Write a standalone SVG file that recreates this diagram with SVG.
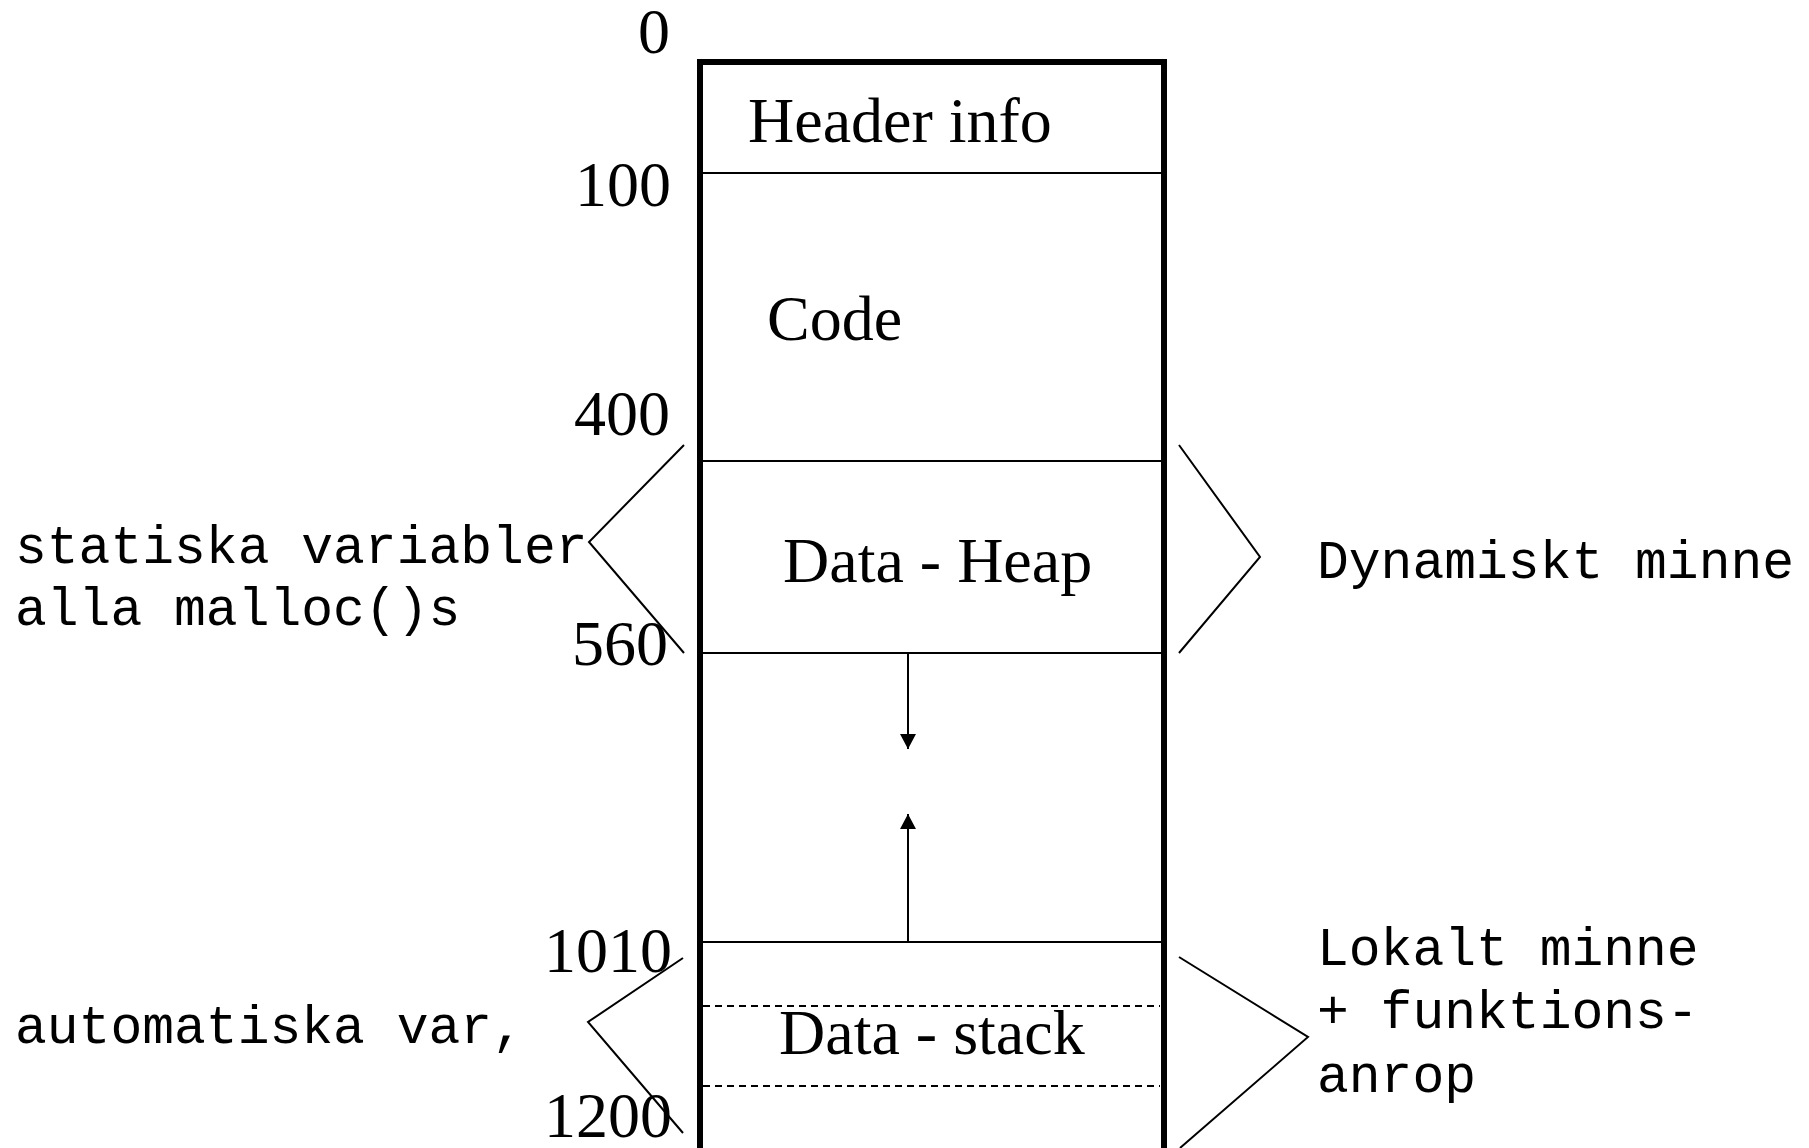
<svg xmlns="http://www.w3.org/2000/svg" width="1809" height="1148" viewBox="0 0 1809 1148">
  <style>
    .serif { font-family: "Liberation Serif", "Times New Roman", serif; font-size: 64px; fill: #000; }
    .num { font-family: "Liberation Serif", "Times New Roman", serif; font-size: 64px; fill: #000; text-anchor: end; }
    .mono { font-family: "Liberation Mono", "Courier New", monospace; font-size: 53px; fill: #000; }
    .thin { stroke: #000; stroke-width: 2; fill: none; }
    .dash { stroke: #000; stroke-width: 2; fill: none; stroke-dasharray: 7 5; }
    .thick { stroke: #000; stroke-width: 6; fill: none; }
  </style>
  <defs>
    <marker id="arrow" viewBox="0 0 15 16" refX="15" refY="8" markerWidth="15" markerHeight="16" markerUnits="userSpaceOnUse" orient="auto">
      <path d="M0,0 L15,8 L0,16 z" fill="#000"/>
    </marker>
  </defs>
  <rect width="1809" height="1148" fill="#fff"/>

  <g id="memory-box">
    <path class="thick" d="M700,1152 V62 H1164 V1152"/>
  </g>

  <g id="header">
    <text class="serif" x="748" y="142">Header info</text>
    <line class="thin" x1="700" y1="173" x2="1164" y2="173"/>
  </g>

  <g id="code">
    <text class="serif" x="767" y="340">Code</text>
    <line class="thin" x1="700" y1="461" x2="1164" y2="461"/>
  </g>

  <g id="heap">
    <text class="serif" x="783" y="582">Data - Heap</text>
    <line class="thin" x1="700" y1="653" x2="1164" y2="653"/>
  </g>

  <g id="stack">
    <line class="thin" x1="700" y1="942" x2="1164" y2="942"/>
    <line class="dash" x1="703" y1="1006" x2="1160" y2="1006"/>
    <text class="serif" x="779" y="1054">Data - stack</text>
    <line class="dash" x1="703" y1="1086" x2="1160" y2="1086"/>
  </g>

  <g id="addresses">
    <text class="num" x="670" y="53">0</text>
    <text class="num" x="671" y="206">100</text>
    <text class="num" x="670" y="435">400</text>
    <text class="num" x="668" y="665">560</text>
    <text class="num" x="672" y="972">1010</text>
    <text class="num" x="672" y="1137">1200</text>
  </g>

  <g id="label-static">
    <text class="mono" x="15" y="563">statiska variabler</text>
    <text class="mono" x="15" y="625">alla malloc()s</text>
  </g>

  <g id="label-dynamic">
    <text class="mono" x="1317" y="578">Dynamiskt minne</text>
  </g>

  <g id="label-automatic">
    <text class="mono" x="15" y="1043">automatiska var,</text>
  </g>

  <g id="label-local">
    <text class="mono" x="1317" y="965">Lokalt minne</text>
    <text class="mono" x="1317" y="1028">+ funktions-</text>
    <text class="mono" x="1317" y="1092">anrop</text>
  </g>

  <g id="connectors">
    <polyline class="thin" points="684,445 589,542 684,653"/>
    <polyline class="thin" points="1179,445 1260,557 1179,653"/>
    <polyline class="thin" points="683,958 588,1022 683,1133"/>
    <polyline class="thin" points="1179,957 1308,1037 1180,1148"/>
    <line class="thin" x1="908" y1="653" x2="908" y2="749" marker-end="url(#arrow)"/>
    <line class="thin" x1="908" y1="942" x2="908" y2="814" marker-end="url(#arrow)"/>
  </g>
</svg>
